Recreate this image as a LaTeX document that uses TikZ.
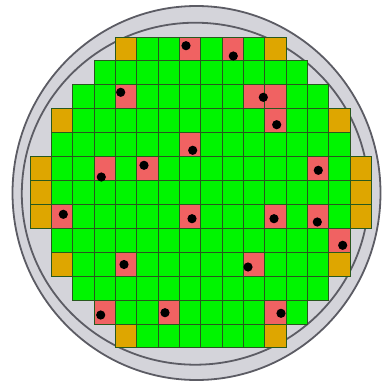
\documentclass[tikz,border=0pt]{standalone}
\usepackage{tikz}
\definecolor{dieGreen}{RGB}{0,245,0}
\definecolor{dieRed}{RGB}{240,98,98}
\definecolor{dieGold}{RGB}{222,166,0}
\definecolor{waferGrey}{RGB}{212,212,218}
\definecolor{rimGrey}{RGB}{92,92,100}
\definecolor{gridLine}{RGB}{40,88,30}
\newcommand{\Die}[3]{%
  \filldraw[fill=#3, draw=gridLine, line width=1pt] (30+#1*21.34,37+#2*23.92) rectangle ++(21.34,23.92);
}
\newcommand{\Defect}[2]{%
  \fill[black] (#1,#2) circle (4.6);
}
\begin{document}
\begin{tikzpicture}[x=1pt,y=-1pt]
    \useasboundingbox (0,0) rectangle (383,383);
    \filldraw[fill=waferGrey, draw=rimGrey, line width=1.8pt] (196.5,193) ellipse (184 and 187);
    \draw[rimGrey, line width=1.8pt] (195.3,193.7) ellipse (173.5 and 171);
    \foreach \r/\a/\b in {0/4/11, 1/3/12, 2/2/13, 3/1/14, 4/1/14, 5/0/15, 6/0/15,
                          7/0/15, 8/1/14, 9/1/14, 10/2/13, 11/3/12, 12/4/11} {
      \foreach \c in {\a,...,\b} {
        \Die{\c}{\r}{dieGreen}
      }
    }
    \foreach \c/\r in {4/0, 11/0, 1/3, 14/3, 0/5, 15/5, 0/6, 15/6, 0/7, 15/7,
                       1/9, 14/9, 4/12, 11/12} {
      \Die{\c}{\r}{dieGold}
    }
    \foreach \c/\r in {7/0, 9/0, 4/2, 10/2, 11/2, 11/3, 7/4, 3/5, 5/5, 13/5,
                       1/7, 7/7, 11/7, 13/7, 14/8, 4/9, 10/9, 3/11, 6/11, 11/11} {
      \Die{\c}{\r}{dieRed}
    }
    \Defect{186}{45.7}
    \Defect{233.3}{56}
    \Defect{120.7}{92.3}
    \Defect{263.3}{97.3}
    \Defect{276.7}{124.7}
    \Defect{192.7}{150.3}
    \Defect{101.3}{177}
    \Defect{144}{165.3}
    \Defect{318.3}{170.3}
    \Defect{63.3}{214.3}
    \Defect{192}{218.7}
    \Defect{274}{218.7}
    \Defect{317.3}{222}
    \Defect{342.7}{245.3}
    \Defect{124}{264.5}
    \Defect{248}{267}
    \Defect{100.7}{315}
    \Defect{165}{312.7}
    \Defect{281}{313.3}
  \end{tikzpicture}
\end{document}
